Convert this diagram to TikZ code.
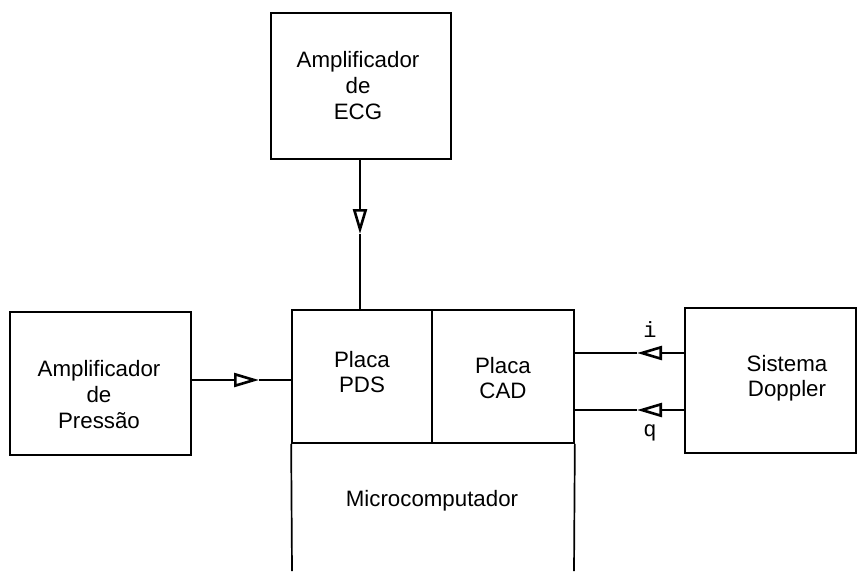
\documentclass[tikz,border=0pt]{standalone}
\usepackage{fontspec}
\setmainfont{Liberation Sans}
\newfontfamily\monof{Liberation Mono}
\usetikzlibrary{arrows.meta}
\tikzset{
  blk/.style={draw, line width=1.7pt, inner sep=0pt},
  txt/.style={inner sep=0pt, align=center, font=\fontsize{22.3}{26}\selectfont},
  txttwo/.style={txt, font=\fontsize{22.3}{24.5}\selectfont},
  wire/.style={line width=1.7pt},
  tipwire/.style={line width=1.7pt, -{Triangle[open,length=25pt,width=14pt,line width=2.6pt]}},
  lbl/.style={inner sep=0pt, font=\monof\fontsize{22}{24}\selectfont}
}
\begin{document}
\begin{tikzpicture}[x=1pt,y=-1pt]
\useasboundingbox (0,0) rectangle (858,571);
% boxes
\node[blk, minimum width=180pt, minimum height=146pt] (ecg) at (361,86) {};
\node[txt] (ecgtxt) at (358,86) {Amplificador\\de\\ECG};
\node[blk, minimum width=181pt, minimum height=143pt] (press) at (100.5,383.5) {};
\node[txt] (presstxt) at (99,395) {Amplificador\\de\\Pressão};
\node[blk, minimum width=171pt, minimum height=145pt] (dop) at (770.5,380.5) {};
\node[txttwo] (doptxt) at (787,378) {Sistema\\Doppler};
\node[blk, minimum width=140pt, minimum height=133pt] (pds) at (362,376.5) {};
\node[txttwo] (pdstxt) at (362,372) {Placa\\PDS};
\node[blk, minimum width=142pt, minimum height=133pt] (cad) at (503,376.5) {};
\node[txttwo] (cadtxt) at (503,378) {Placa\\CAD};
% microcomputer (open at the bottom)
\coordinate (mbl) at (292,571);
\coordinate (mbr) at (574,571);
\draw[wire] (pds.south west) -- (mbl);
\draw[wire] (cad.south east) -- (mbr);
\node[txt] (micro) at (432,501) {Microcomputador};
% connectors with mid-line open arrowheads
\coordinate (ecgin) at (360,310);
\coordinate (ecgtip) at (360,234);
\draw[tipwire] (ecg.south -| ecgin) -- (ecgtip);
\draw[wire] (ecgtip) -- (ecgin);
\coordinate (ptip) at (259,380);
\draw[tipwire] (press.east |- ptip) -- (ptip);
\draw[wire] (ptip) -- (pds.west |- ptip);
\coordinate (itip) at (637,353);
\coordinate (qtip) at (637,410);
\draw[tipwire] (dop.west |- itip) -- (itip);
\draw[wire] (itip) -- (cad.east |- itip);
\draw[tipwire] (dop.west |- qtip) -- (qtip);
\draw[wire] (qtip) -- (cad.east |- qtip);
\node[lbl] (li) at (650,330) {i};
\node[lbl] (lq) at (650,433) {q};
\end{tikzpicture}
\end{document}
